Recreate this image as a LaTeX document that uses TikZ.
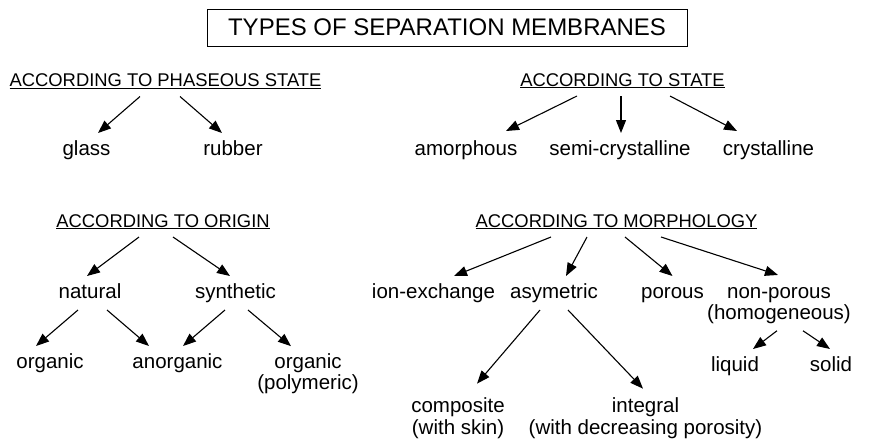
\documentclass[tikz,border=0pt]{standalone}
\usepackage{fontspec}
\setmainfont{Liberation Sans}
\usetikzlibrary{arrows.meta}

\begin{document}
\begin{tikzpicture}[x=1pt, y=-1pt, inner sep=0, line width=1.1pt,
    titel/.style={draw, line width=0.9pt, minimum width=480pt, minimum height=37pt, font=\fontsize{24}{28}\selectfont},
    kop/.style={anchor=base, text height=14pt, text depth=3pt, outer ysep=7pt, font=\fontsize{18.4}{22}\selectfont},
    soort/.style={anchor=base, text height=15pt, text depth=5pt, outer ysep=7pt, font=\fontsize{20.5}{22}\selectfont},
    dubbel/.style={anchor=base, align=center, outer ysep=7pt, font=\fontsize{20.5}{21.5}\selectfont},
    pijl/.style={-{Triangle[length=13pt, width=10pt]}}]
    % kader
    \useasboundingbox (0,0) rectangle (881,440);
    % titel
    \node[titel] (t) at (447,27.5) {TYPES OF SEPARATION MEMBRANES};
    % fase
    \node[kop] (fase) at (165.5,86.5) {\underline{ACCORDING TO PHASEOUS STATE}};
    \node[soort] (glass) at (86.5,155) {glass};
    \node[soort] (rubber) at (233,155) {rubber};
    \draw[pijl] ([xshift=-25.5pt]fase.south) -- ([xshift=11.5pt]glass.north);
    \draw[pijl] ([xshift=14.5pt]fase.south) -- ([xshift=-11pt]rubber.north);
    % toestand
    \node[kop] (toest) at (622.5,86) {\underline{ACCORDING TO STATE}};
    \node[soort] (amorf) at (466,155) {amorphous};
    \node[soort] (semi) at (620,155) {semi-crystalline};
    \node[soort] (kris) at (768.5,155) {crystalline};
    \draw[pijl] ([xshift=-45.5pt]toest.south) -- ([xshift=40pt,yshift=2pt]amorf.north);
    \draw[pijl] ([xshift=-1.5pt]toest.south) -- ([xshift=1pt]semi.north);
    \draw[pijl] ([xshift=47.5pt]toest.south) -- ([xshift=-31.5pt,yshift=2pt]kris.north);
    % oorsprong
    \node[kop] (oorspr) at (163,227) {\underline{ACCORDING TO ORIGIN}};
    \node[soort] (nat) at (90,298) {natural};
    \node[soort] (synth) at (235.5,298) {synthetic};
    \node[soort] (org) at (50,368) {organic};
    \node[soort] (anorg) at (177.5,368) {anorganic};
    \node[dubbel] (poly) at (308,389.5) {organic\\(polymeric)};
    \draw[pijl] ([xshift=-24pt]oorspr.south) -- ([xshift=-3pt]nat.north);
    \draw[pijl] ([xshift=10pt]oorspr.south) -- ([xshift=-5.5pt]synth.north);
    \draw[pijl] ([xshift=-12pt]nat.south) -- ([xshift=-14pt]org.north);
    \draw[pijl] ([xshift=17pt]nat.south) -- ([xshift=-28.5pt]anorg.north);
    \draw[pijl] ([xshift=-10.5pt]synth.south) -- ([xshift=5.5pt]anorg.north);
    \draw[pijl] ([xshift=12.5pt]synth.south) -- ([xshift=-17pt]poly.north);
    % morfologie
    \node[kop] (morf) at (616.5,227) {\underline{ACCORDING TO MORPHOLOGY}};
    \node[soort] (ion) at (433.5,298) {ion-exchange};
    \node[soort] (asym) at (554,298) {asymetric};
    \node[soort] (por) at (672.5,298) {porous};
    \node[dubbel] (nonpor) at (779,319.5) {non-porous\\(homogeneous)};
    \node[soort] (vl) at (735,371) {liquid};
    \node[soort] (vast) at (831,371) {solid};
    \node[dubbel] (comp) at (458,434) {composite\\(with skin)};
    \node[dubbel] (integr) at (645.5,434) {integral\\(with decreasing porosity)};
    \draw[pijl] ([xshift=-65.5pt]morf.south) -- ([xshift=20.5pt]ion.north);
    \draw[pijl] ([xshift=-29.5pt]morf.south) -- ([xshift=12pt]asym.north);
    \draw[pijl] ([xshift=8.5pt]morf.south) -- (por.north);
    \draw[pijl] ([xshift=44.5pt]morf.south) -- ([xshift=-1pt,yshift=5pt]nonpor.north);
    \draw[pijl] ([xshift=-14pt]asym.south) -- ([xshift=19pt,yshift=7pt]comp.north);
    \draw[pijl] ([xshift=14pt]asym.south) -- ([xshift=-2.5pt,yshift=2pt]integr.north);
    \draw[pijl] ([xshift=-2pt]nonpor.south) -- ([xshift=18pt]vl.north);
    \draw[pijl] ([xshift=24pt]nonpor.south) -- ([xshift=-1pt]vast.north);
\end{tikzpicture}
\end{document}
